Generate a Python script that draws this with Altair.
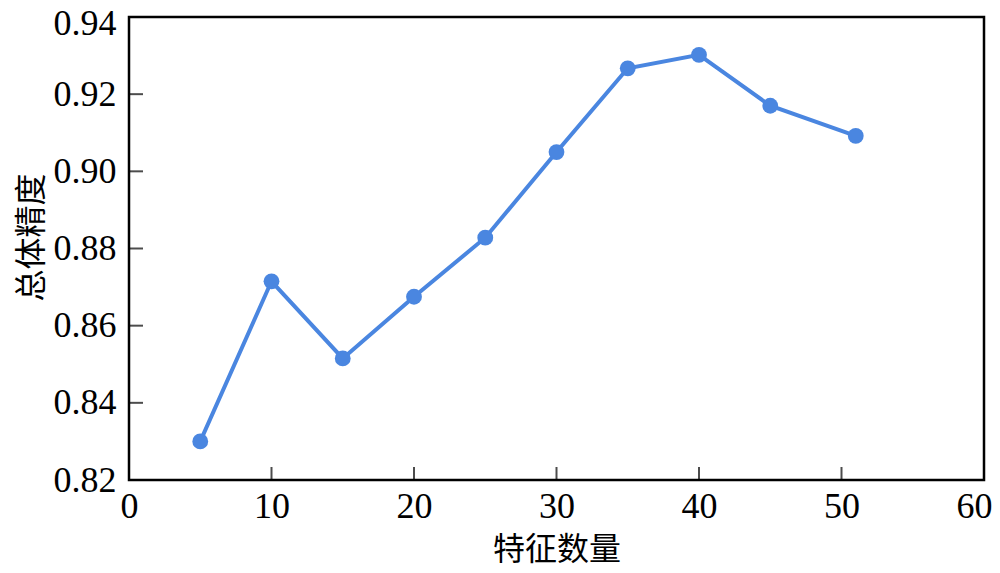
import altair as alt
import pandas as pd

features = [5, 10, 15, 20, 25, 30, 35, 40, 45, 51]
accuracy = [0.830, 0.8715, 0.8515, 0.8675, 0.8828, 0.9050, 0.9267, 0.9302, 0.9170, 0.9092]
x_ticks = [0, 10, 20, 30, 40, 50, 60]
y_ticks = [0.82, 0.84, 0.86, 0.88, 0.90, 0.92, 0.94]
x_inner = [10, 20, 30, 40, 50]
y_inner = [0.84, 0.86, 0.88, 0.90, 0.92]

W, H = 855, 463
COLOR = "#4A86E0"
NUM_FONT = "Liberation Serif"
CJK_FONT = "Noto Sans CJK SC"

df = pd.DataFrame({"x": features, "y": accuracy})
xt = pd.DataFrame({"x": x_inner})
yt = pd.DataFrame({"y": y_inner})

xscale = alt.Scale(domain=[0, 60], nice=False, zero=False)
yscale = alt.Scale(domain=[0.82, 0.94], nice=False, zero=False)

xaxis = alt.Axis(
    title="特征数量", values=x_ticks, format="d", grid=False, domain=False,
    ticks=False, tickSize=0, labelPadding=9, labelFont=NUM_FONT, labelFontSize=36,
    labelColor="black", titleFont=CJK_FONT, titleFontSize=32, titleFontWeight="normal",
    titleColor="black", titleBaseline="middle", titleY=69, labelFlush=False,
    labelOffset=alt.expr("datum.value == 60 ? -10 : 0"),
)
yaxis = alt.Axis(
    title="总体精度", values=y_ticks, format=".2f", grid=False, domain=False,
    ticks=False, tickSize=0, labelPadding=13, labelFont=NUM_FONT, labelFontSize=36,
    labelColor="black", titleFont=CJK_FONT, titleFontSize=32, titleFontWeight="normal",
    titleColor="black", titleBaseline="middle", titleX=-98, titleY=220, labelFlush=False,
    labelOffset=alt.expr("datum.value >= 0.939 ? 6 : 0"),
)

line = alt.Chart(df).mark_line(color=COLOR, strokeWidth=4).encode(
    x=alt.X("x:Q", scale=xscale, axis=xaxis),
    y=alt.Y("y:Q", scale=yscale, axis=yaxis),
)
pts = alt.Chart(df).mark_circle(color=COLOR, opacity=1, size=250).encode(
    x=alt.X("x:Q", scale=xscale),
    y=alt.Y("y:Q", scale=yscale),
)
xtick = alt.Chart(xt).mark_tick(color="black", thickness=2, size=13, orient="vertical").encode(
    x=alt.X("x:Q", scale=xscale),
    y=alt.value(H - 6.5),
)
ytick = alt.Chart(yt).mark_tick(color="black", thickness=2, size=14, orient="horizontal").encode(
    y=alt.Y("y:Q", scale=yscale),
    x=alt.value(7),
)

chart = alt.layer(line, pts, xtick, ytick).properties(
    width=W, height=H,
    autosize=alt.AutoSizeParams(type="none"),
    padding={"left": 121, "top": 9, "right": 8, "bottom": 85},
).configure(background="white").configure_view(stroke="black", strokeWidth=2.5)

chart.save("out.html", embed_options={"renderer": "svg", "actions": False})
